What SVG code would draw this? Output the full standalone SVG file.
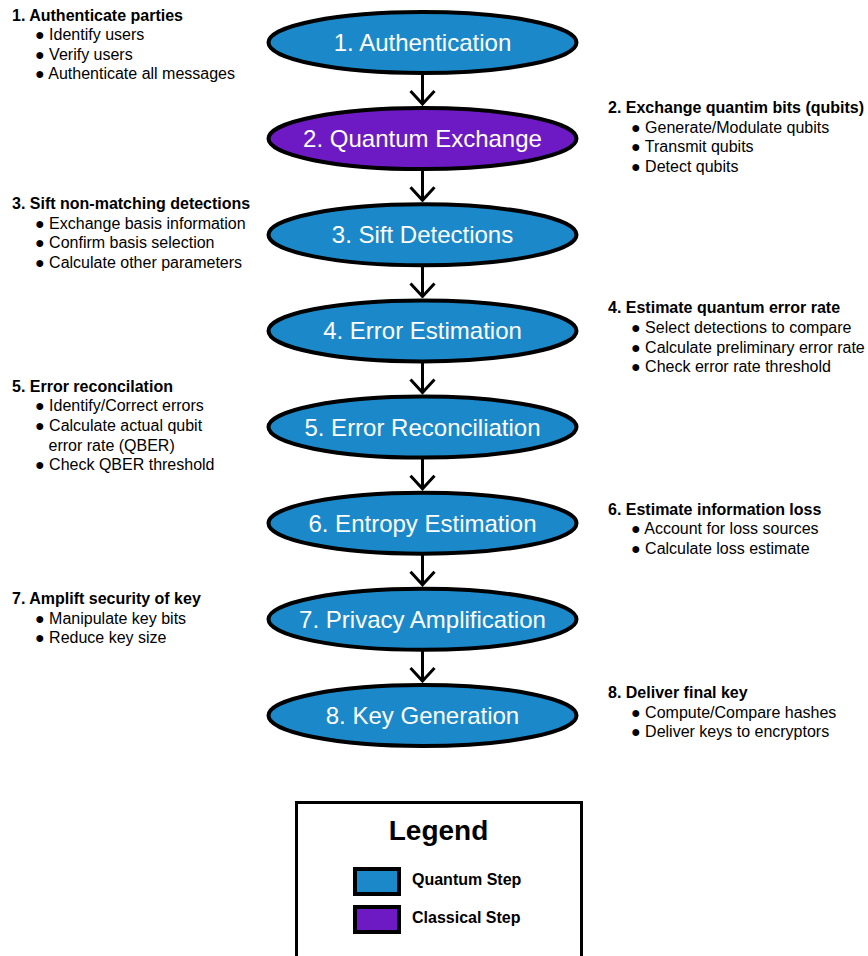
<svg xmlns="http://www.w3.org/2000/svg" width="868" height="956" viewBox="0 0 868 956">
<style>
.q{fill:#1B89C9;stroke:#000;stroke-width:4}
.c{fill:#6E1AC4;stroke:#000;stroke-width:4}
.lbl{font-family:"Liberation Sans",Arial,sans-serif;font-size:24px;fill:#fff;text-anchor:middle}
.h{font-family:"Liberation Sans",Arial,sans-serif;font-size:16px;font-weight:bold;fill:#000}
.t{font-family:"Liberation Sans",Arial,sans-serif;font-size:16px;fill:#000}
.conn{stroke:#000;stroke-width:3;fill:none}
.sw{stroke:#000;stroke-width:4}
</style>
<defs>
<marker id="arr" markerUnits="userSpaceOnUse" viewBox="-16 -15 18 30" markerWidth="18" markerHeight="30" refX="0" refY="0" orient="auto">
<path d="M-13,-12 L0,0 L-13,12" fill="none" stroke="#000" stroke-width="3"/>
</marker>
</defs>
<rect width="868" height="956" fill="#fff"/>

<g id="connectors">
<line class="conn" x1="422.5" y1="73" x2="422.5" y2="104" marker-end="url(#arr)"/>
<line class="conn" x1="422.5" y1="169" x2="422.5" y2="200.3" marker-end="url(#arr)"/>
<line class="conn" x1="422.5" y1="265.3" x2="422.5" y2="296.4" marker-end="url(#arr)"/>
<line class="conn" x1="422.5" y1="361.4" x2="422.5" y2="392.6" marker-end="url(#arr)"/>
<line class="conn" x1="422.5" y1="457.6" x2="422.5" y2="488.7" marker-end="url(#arr)"/>
<line class="conn" x1="422.5" y1="553.7" x2="422.5" y2="584.8" marker-end="url(#arr)"/>
<line class="conn" x1="422.5" y1="649.8" x2="422.5" y2="681" marker-end="url(#arr)"/>
</g>

<g id="node1"><ellipse class="q" cx="422.5" cy="42.5" rx="154" ry="30.5"/><text class="lbl" x="422.5" y="51">1. Authentication</text></g>
<g id="node2"><ellipse class="c" cx="422.5" cy="138.6" rx="154" ry="30.5"/><text class="lbl" x="422.5" y="147.1">2. Quantum Exchange</text></g>
<g id="node3"><ellipse class="q" cx="422.5" cy="234.8" rx="154" ry="30.5"/><text class="lbl" x="422.5" y="243.3">3. Sift Detections</text></g>
<g id="node4"><ellipse class="q" cx="422.5" cy="330.9" rx="154" ry="30.5"/><text class="lbl" x="422.5" y="339.4">4. Error Estimation</text></g>
<g id="node5"><ellipse class="q" cx="422.5" cy="427.1" rx="154" ry="30.5"/><text class="lbl" x="422.5" y="435.6">5. Error Reconciliation</text></g>
<g id="node6"><ellipse class="q" cx="422.5" cy="523.2" rx="154" ry="30.5"/><text class="lbl" x="422.5" y="531.7">6. Entropy Estimation</text></g>
<g id="node7"><ellipse class="q" cx="422.5" cy="619.3" rx="154" ry="30.5"/><text class="lbl" x="422.5" y="627.8">7. Privacy Amplification</text></g>
<g id="node8"><ellipse class="q" cx="422.5" cy="715.5" rx="154" ry="30.5"/><text class="lbl" x="422.5" y="724">8. Key Generation</text></g>

<g id="note1">
<text class="h" x="12" y="20.5">1. Authenticate parties</text>
<text class="t" x="35" y="40">● Identify users</text>
<text class="t" x="35" y="59.5">● Verify users</text>
<text class="t" x="35" y="79">● Authenticate all messages</text>
</g>
<g id="note2">
<text class="h" x="608" y="112.7">2. Exchange quantim bits (qubits)</text>
<text class="t" x="631" y="132.5">● Generate/Modulate qubits</text>
<text class="t" x="631" y="152">● Transmit qubits</text>
<text class="t" x="631" y="171.5">● Detect qubits</text>
</g>
<g id="note3">
<text class="h" x="12" y="209">3. Sift non-matching detections</text>
<text class="t" x="35" y="228.5">● Exchange basis information</text>
<text class="t" x="35" y="248">● Confirm basis selection</text>
<text class="t" x="35" y="267.5">● Calculate other parameters</text>
</g>
<g id="note4">
<text class="h" x="608" y="313.3">4. Estimate quantum error rate</text>
<text class="t" x="631" y="333">● Select detections to compare</text>
<text class="t" x="631" y="352.5">● Calculate preliminary error rate</text>
<text class="t" x="631" y="372">● Check error rate threshold</text>
</g>
<g id="note5">
<text class="h" x="12" y="391.5">5. Error reconcilation</text>
<text class="t" x="35" y="411">● Identify/Correct errors</text>
<text class="t" x="35" y="431">● Calculate actual qubit</text>
<text class="t" x="48.5" y="450.5">error rate (QBER)</text>
<text class="t" x="35" y="470">● Check QBER threshold</text>
</g>
<g id="note6">
<text class="h" x="608" y="515">6. Estimate information loss</text>
<text class="t" x="631" y="534.3">● Account for loss sources</text>
<text class="t" x="631" y="553.5">● Calculate loss estimate</text>
</g>
<g id="note7">
<text class="h" x="12" y="604">7. Amplift security of key</text>
<text class="t" x="35" y="623.5">● Manipulate key bits</text>
<text class="t" x="35" y="643">● Reduce key size</text>
</g>
<g id="note8">
<text class="h" x="608" y="698.3">8. Deliver final key</text>
<text class="t" x="631" y="717.5">● Compute/Compare hashes</text>
<text class="t" x="631" y="737">● Deliver keys to encryptors</text>
</g>

<g id="legend">
<rect x="296.5" y="802.5" width="285" height="170" fill="#fff" stroke="#000" stroke-width="3"/>
<text x="438.5" y="840" font-family="Liberation Sans, Arial, sans-serif" font-size="28" font-weight="bold" text-anchor="middle">Legend</text>
<rect class="sw" x="355" y="869" width="44" height="25" fill="#1B89C9"/>
<text class="h" x="412" y="885">Quantum Step</text>
<rect class="sw" x="355" y="907" width="44" height="25" fill="#6E1AC4"/>
<text class="h" x="412" y="923.3">Classical Step</text>
</g>
</svg>
